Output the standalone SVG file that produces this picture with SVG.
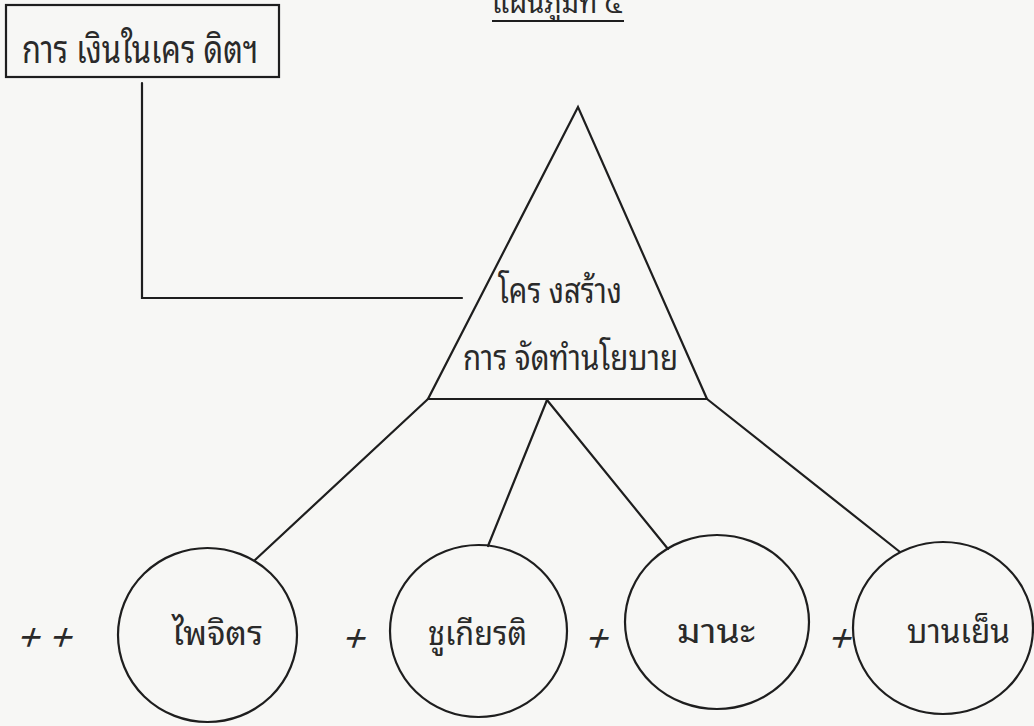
<svg xmlns="http://www.w3.org/2000/svg" width="1034" height="726" viewBox="0 0 1034 726">
  <style>
    .bg { fill: #f7f7f5; }
    .shape { fill: none; stroke: #1e1e1e; stroke-width: 2.2; }
    .conn { fill: none; stroke: #1e1e1e; stroke-width: 2.2; stroke-linecap: round; }
    .th { font-family: "Noto Sans Thai Looped", "Noto Serif Thai", "Noto Sans Thai", "Noto Sans", "DejaVu Sans", sans-serif; fill: #2a2a2a; }
    .plus { font-family: "Liberation Sans", "DejaVu Sans", sans-serif; font-size: 38px; fill: #2a2a2a; }
  </style>
  <rect class="bg" x="0" y="0" width="1034" height="726"/>

  <g id="title">
    <text class="th" x="492" y="13" font-size="30" textLength="130" lengthAdjust="spacingAndGlyphs">แผนภูมิที่ ๔</text>
    <line class="shape" x1="492" y1="21" x2="624" y2="21"/>
  </g>

  <g id="node-finance">
    <rect class="shape" x="6" y="5" width="273" height="72"/>
    <text class="th" x="22" y="63" font-size="38" textLength="236" lengthAdjust="spacingAndGlyphs">การ เงินในเคร ดิตฯ</text>
  </g>

  <g id="node-structure">
    <polygon class="shape" points="578,107 428,399 707,399"/>
    <text class="th" x="498" y="303" font-size="35" textLength="124" lengthAdjust="spacingAndGlyphs">โคร งสร้าง</text>
    <text class="th" x="463" y="370" font-size="35" textLength="215" lengthAdjust="spacingAndGlyphs">การ จัดทำนโยบาย</text>
  </g>

  <g id="connectors">
    <polyline class="conn" points="142,83 142,298 462,298"/>
    <line class="conn" x1="428" y1="399" x2="255" y2="560"/>
    <line class="conn" x1="547" y1="400" x2="488" y2="546"/>
    <line class="conn" x1="547" y1="400" x2="668" y2="549"/>
    <line class="conn" x1="707" y1="399" x2="900" y2="552"/>
  </g>

  <g id="node-paijit">
    <ellipse class="shape" cx="207.5" cy="635" rx="89.5" ry="87"/>
    <text class="th" x="172" y="645" font-size="34" textLength="91" lengthAdjust="spacingAndGlyphs">ไพจิตร</text>
  </g>

  <g id="node-chukiat">
    <ellipse class="shape" cx="478.5" cy="631" rx="88.5" ry="86"/>
    <text class="th" x="428" y="645" font-size="34" textLength="99" lengthAdjust="spacingAndGlyphs">ชูเกียรติ</text>
  </g>

  <g id="node-mana">
    <ellipse class="shape" cx="717" cy="622" rx="92" ry="87"/>
    <text class="th" x="677" y="643" font-size="34" textLength="78" lengthAdjust="spacingAndGlyphs">มานะ</text>
  </g>

  <g id="node-banyen">
    <ellipse class="shape" cx="943" cy="628" rx="90" ry="86"/>
    <text class="th" x="907" y="643" font-size="34" textLength="103" lengthAdjust="spacingAndGlyphs">บานเย็น</text>
  </g>

  <g id="plus-signs">
    <text class="plus" transform="translate(16,650) skewX(-18)">+</text>
    <text class="plus" transform="translate(48,650) skewX(-18)">+</text>
    <text class="plus" transform="translate(341,651) skewX(-18)">+</text>
    <text class="plus" transform="translate(584,651) skewX(-18)">+</text>
    <text class="plus" transform="translate(827,651) skewX(-18)">+</text>
  </g>
</svg>
